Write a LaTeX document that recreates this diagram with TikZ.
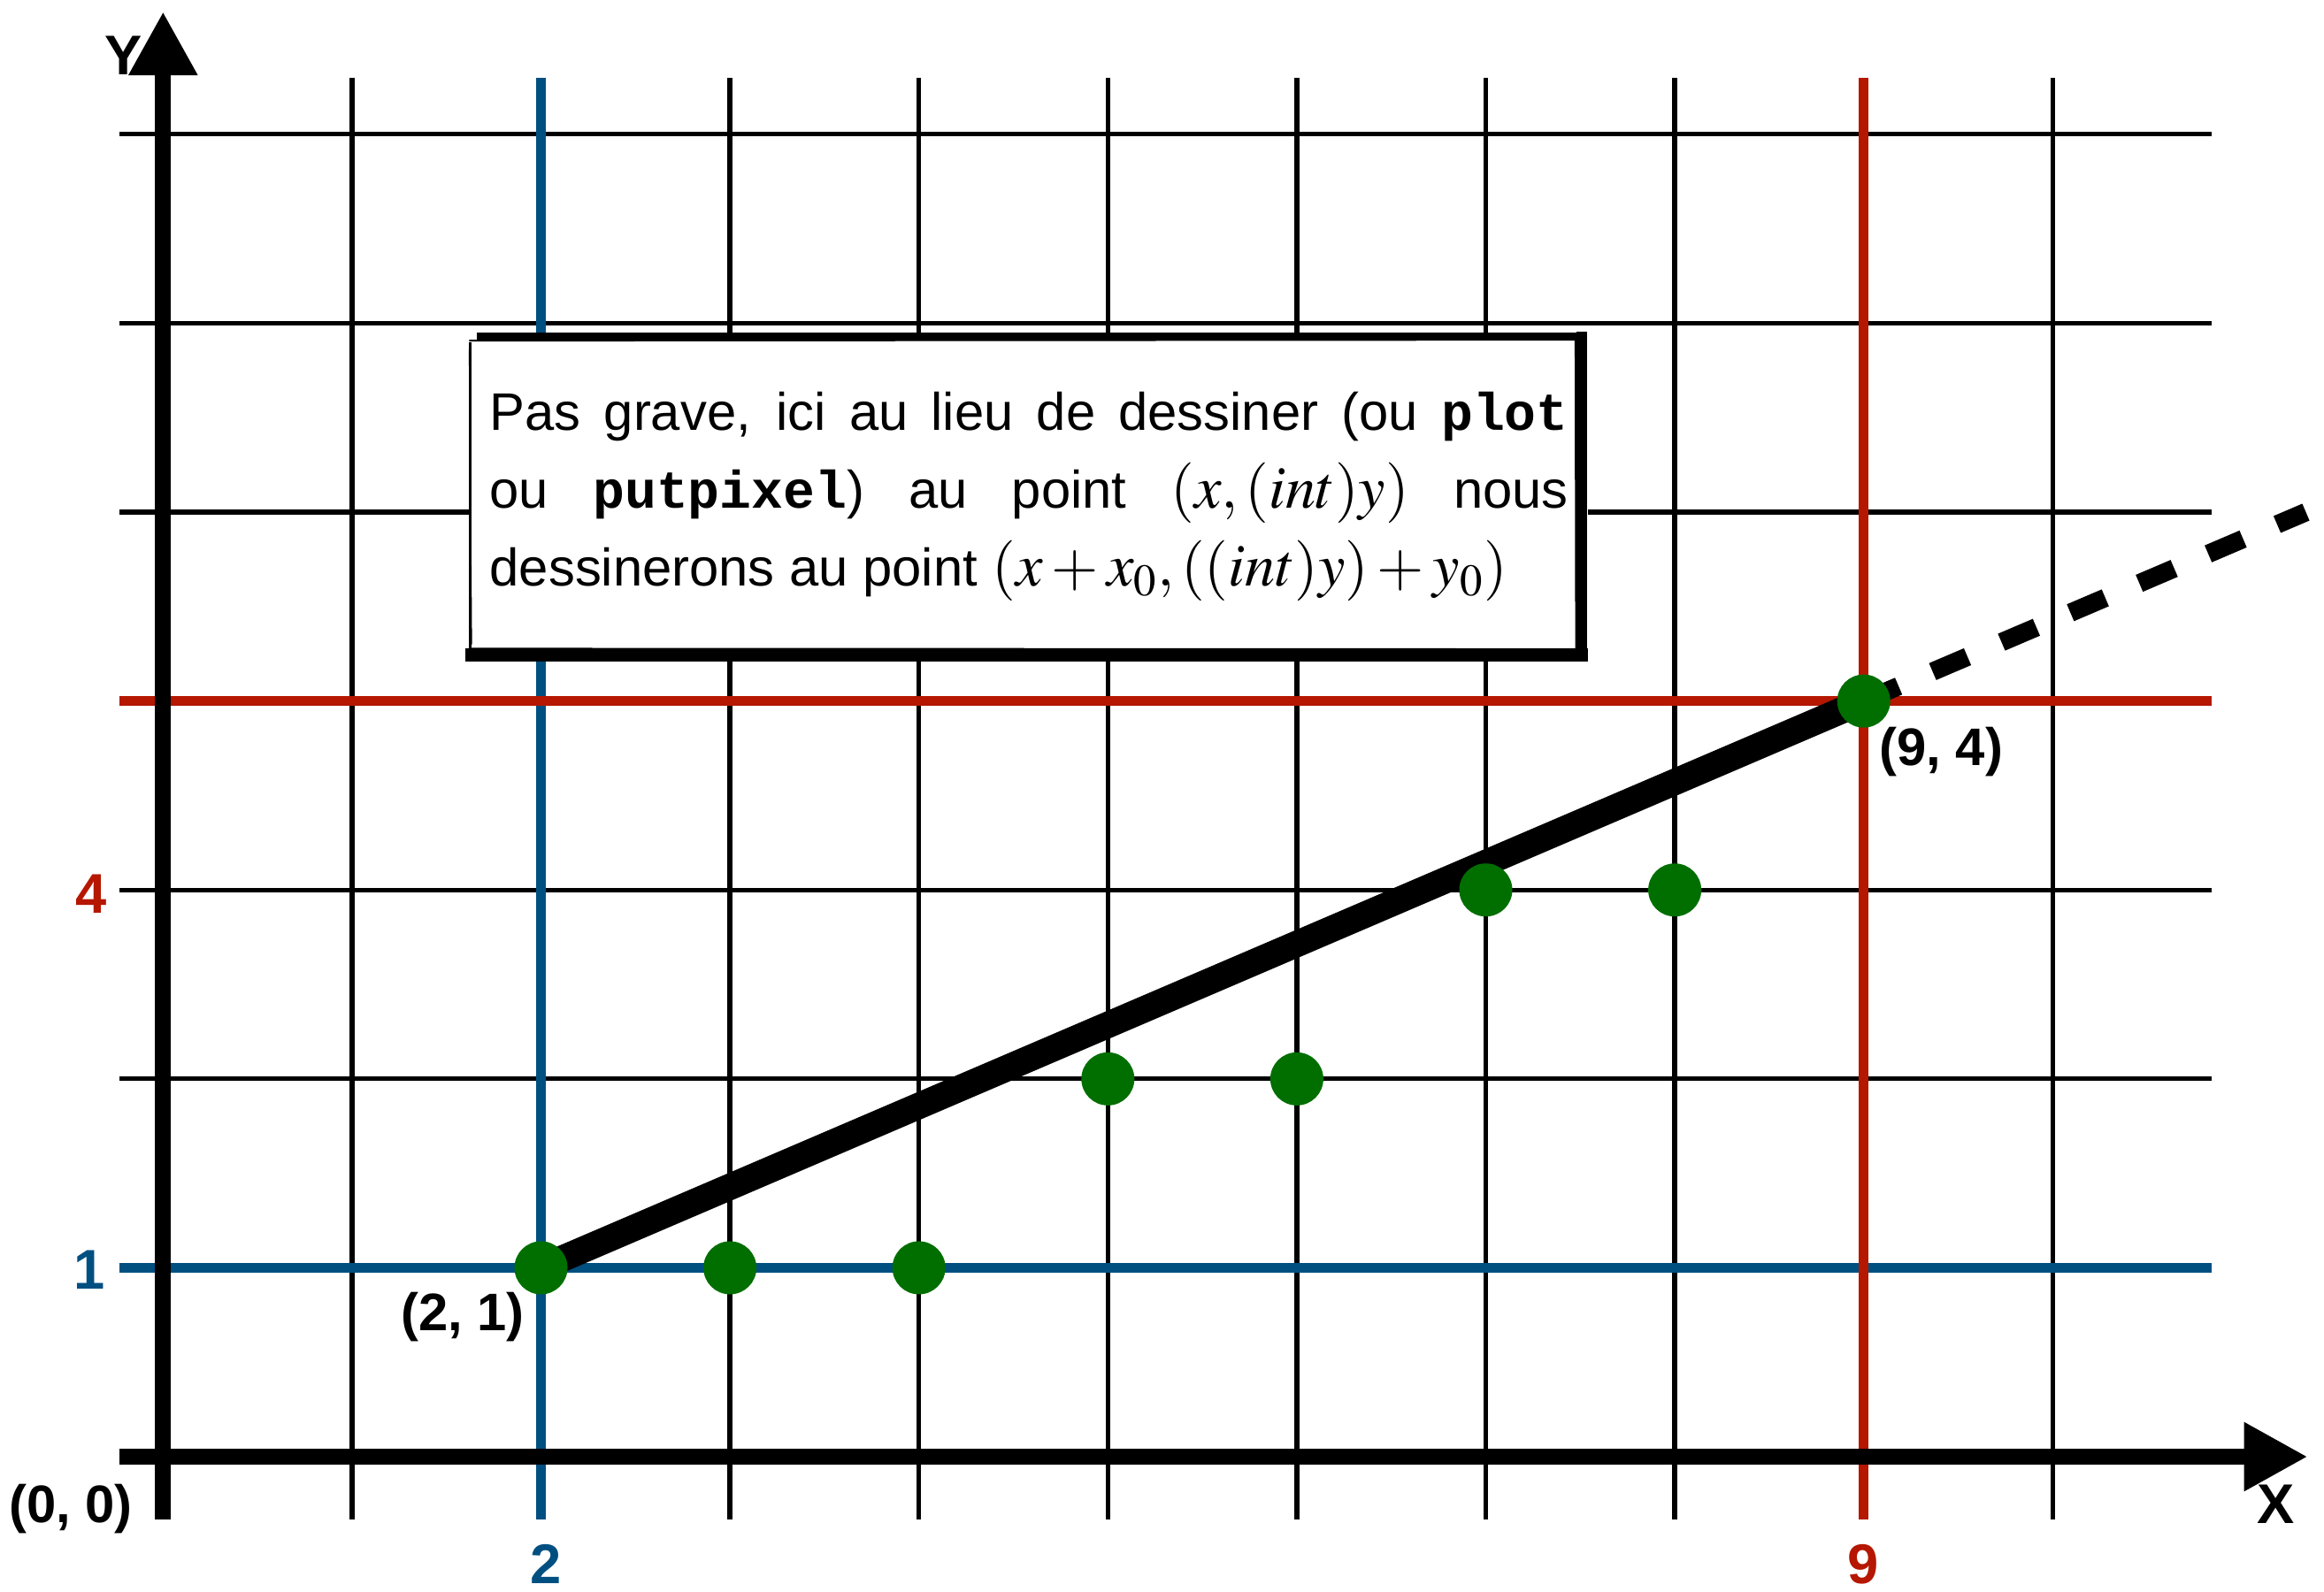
\documentclass[tikz,border=0pt]{standalone}
\usepackage{mathptmx}
\usepackage[no-math]{fontspec}
\setmainfont{Liberation Sans}
\setmonofont{Liberation Mono}
\usetikzlibrary{arrows.meta}
\definecolor{bl}{RGB}{0,79,129}
\definecolor{rd}{RGB}{181,23,0}
\definecolor{gr}{RGB}{0,111,0}
\newcommand{\mymath}[1]{{\fontsize{19.5}{25}\selectfont$#1$}}
\begin{document}
\begin{tikzpicture}[x=2.136cm,y=2.136cm,
 gridline/.style={line width=1.5pt,black},
 blueline/.style={line width=3pt,bl},
 redline/.style={line width=3pt,rd},
 axisline/.style={line width=5.1pt,-{Triangle[length=0.72cm,width=0.73cm]}},
 dot/.style={circle,fill=gr,inner sep=0pt,minimum size=0.6cm},
 lbl/.style={font=\fontsize{17}{20}\selectfont\bfseries,inner sep=0pt},
 ticklbl/.style={font=\fontsize{18}{21}\selectfont\bfseries,inner sep=0pt},
 sk/.style={black,line cap=butt},
]
\useasboundingbox (-0.863,-0.712) rectangle (11.436,7.711);
\fill[white] (-0.863,-0.712) rectangle (11.436,7.711);
% grid
\foreach \i in {1,3,4,5,6,7,8,10} \draw[gridline] (\i,-0.33) -- (\i,7.30);
\foreach \j in {2,3,5,6,7} \draw[gridline] (-0.23,\j) -- (10.84,\j);
\draw[blueline] (2,-0.33) -- (2,7.30);
\draw[blueline] (-0.23,1) -- (10.84,1);
\draw[redline] (9,-0.33) -- (9,7.30);
\draw[redline] (-0.23,4) -- (10.84,4);
% axes
\draw[axisline] (0,-0.33) -- (0,7.65);
\draw[axisline] (-0.23,0) -- (11.35,0);
% text box
\fill[white] (1.618,4.209) rectangle (7.541,5.951);
\draw[sk,line width=0.9pt] (1.627,5.90) -- (1.627,4.22);
\draw[sk,line width=0.4pt] (1.621,5.86) -- (1.632,4.30);
\draw[sk,line width=2.6pt] (1.66,5.928) -- (7.53,5.928);
\draw[sk,line width=0.6pt] (1.62,5.908) -- (7.50,5.913);
\draw[sk,line width=0.5pt] (1.75,5.946) -- (7.45,5.941);
\draw[sk,line width=3.4pt] (7.510,5.955) -- (7.510,4.209);
\draw[sk,line width=0.7pt] (7.476,5.93) -- (7.479,4.27);
\draw[sk,line width=4.3pt] (1.60,4.246) -- (7.541,4.246);
\draw[sk,line width=0.6pt] (1.63,4.277) -- (7.47,4.274);
\node[anchor=base west,text width=12.19cm,align=justify,inner sep=0pt,
      font=\fontsize{17}{25}\selectfont] (txt) at (1.726,5.431)
 {Pas grave, ici au lieu de dessiner (ou \texttt{\bfseries plot}\linebreak
  ou \texttt{\bfseries putpixel}) au point \mymath{(x,(int)y)} nous\linebreak
  dessinerons au point \mymath{(x+x_0,((int)y)+y_0)}};
% line
\coordinate (c21) at (2,1);
\coordinate (c94) at (9,4);
\coordinate (dend) at (11.34,5.0);
\draw[line width=8.5pt,line cap=butt] (c21) -- (c94);
\draw[line width=5.9pt,line cap=butt,dash pattern=on 12.2pt off 11.9pt] (c94) -- (dend);
% dots
\node[dot] (p21) at (c21) {};
\node[dot] (p31) at (3,1) {};
\node[dot] (p41) at (4,1) {};
\node[dot] (p52) at (5,2) {};
\node[dot] (p62) at (6,2) {};
\node[dot] (p73) at (7,3) {};
\node[dot] (p83) at (8,3) {};
\node[dot] (p94) at (c94) {};
% labels
\node[lbl] (l00) at (-0.488,-0.276) {(0, 0)};
\node[lbl] (l21) at (1.585,0.74) {(2, 1)};
\node[lbl] (l94) at (9.41,3.73) {(9, 4)};
\node[ticklbl] (lx) at (11.18,-0.25) {X};
\node[ticklbl] (ly) at (-0.21,7.415) {Y};
\node[ticklbl,text=bl] (ly1) at (-0.392,0.988) {1};
\node[ticklbl,text=rd] (ly4) at (-0.381,2.98) {4};
\node[ticklbl,text=bl] (lx2) at (2.026,-0.57) {2};
\node[ticklbl,text=rd] (lx9) at (8.997,-0.57) {9};
\end{tikzpicture}
\end{document}
